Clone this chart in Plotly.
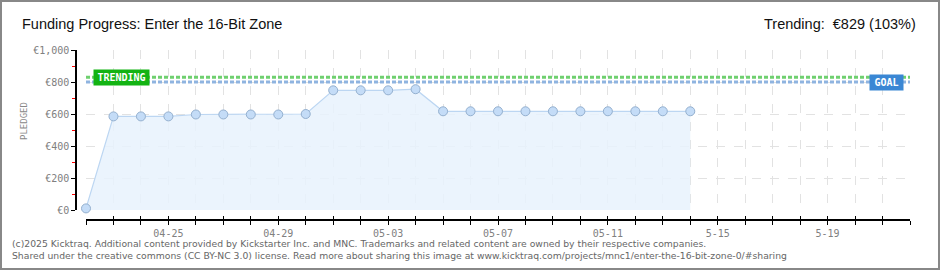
import plotly.graph_objects as go
import pandas as pd

# ---- data ----
dates = pd.date_range("2025-04-22", "2025-05-14", freq="D").strftime("%Y-%m-%d").tolist()
pledged = [10, 585, 585, 585, 597, 597, 597, 597, 600, 748, 748, 748, 755,
           617, 617, 617, 617, 617, 617, 617, 617, 617, 617]
x_start, x_end = "2025-04-22", "2025-05-22"
goal = 800
trending = 829
title_text = "Funding Progress: Enter the 16-Bit Zone"
trend_text = "Trending:  €829 (103%)"
tick_days = pd.date_range(x_start, x_end, freq="D").strftime("%Y-%m-%d").tolist()
label_map = {"2025-04-25": "04-25", "2025-04-29": "04-29", "2025-05-03": "05-03",
             "2025-05-07": "05-07", "2025-05-11": "05-11", "2025-05-15": "5-15",
             "2025-05-19": "5-19"}
tick_text = [label_map.get(d, "") for d in tick_days]
y_vals = [0, 200, 400, 600, 800, 1000]
y_text = ["€0", "€200", "€400", "€600", "€800", "€1,000"]
footer1 = "(c)2025 Kicktraq. Additional content provided by Kickstarter Inc. and MNC. Trademarks and related content are owned by their respective companies."
footer2 = "Shared under the creative commons (CC BY-NC 3.0) license. Read more about sharing this image at www.kicktraq.com/projects/mnc1/enter-the-16-bit-zone-0/#sharing"

W, H = 940, 270
L, R, T, B = 76, 30, 50, 50
PW, PH = W - L - R, H - T - B

fig = go.Figure()
fig.add_trace(go.Scatter(
    x=dates, y=pledged, mode="lines+markers", fill="tozeroy",
    fillcolor="rgba(232,242,253,0.85)",
    line=dict(color="#bcd6f2", width=1.2),
    marker=dict(size=9, color="#c4dcf7", line=dict(color="#94b0cf", width=1)),
    cliponaxis=False,
    hoverinfo="skip", showlegend=False, xaxis="x", yaxis="y"))

tick_font = dict(family="DejaVu Sans Mono, DejaVu Sans", size=10, color="#808080")

fig.update_layout(
    width=W, height=H, margin=dict(l=L, r=R, t=T, b=B),
    paper_bgcolor="white", plot_bgcolor="white",
    xaxis=dict(domain=[10 / PW, 1], range=[x_start, x_end], type="date",
               tick0=x_start, dtick=86400000, showgrid=True, gridcolor="#e2e2e2",
               griddash="dash", gridwidth=1, showticklabels=False, ticks="",
               zeroline=False, showline=False),
    xaxis2=dict(overlaying="x", anchor="free", position=0, range=[x_start, x_end],
                type="date", tickmode="array", tickvals=tick_days, ticktext=tick_text,
                ticks="outside", ticklen=4, tickcolor="black", tickwidth=1,
                showline=True, linecolor="black", linewidth=1.5, showgrid=False,
                zeroline=False, tickfont=tick_font),
    xaxis3=dict(overlaying="x", anchor="free", position=0, range=[x_start, x_end],
                type="date", tickmode="array", tickvals=tick_days,
                ticktext=[""] * len(tick_days),
                ticks="inside", ticklen=4, tickcolor="black", tickwidth=1,
                showline=False, showgrid=False, zeroline=False),
    yaxis=dict(domain=[10 / PH, 1], range=[0, 1000], tickvals=y_vals,
               showgrid=True, gridcolor="#e2e2e2", griddash="dash",
               showticklabels=False, ticks="", zeroline=False, showline=False),
    yaxis2=dict(overlaying="y", anchor="free", position=0, range=[0, 1000],
                tickmode="array", tickvals=y_vals, ticktext=y_text,
                ticks="outside", ticklen=4, tickcolor="black", tickwidth=1,
                showline=True, linecolor="black", linewidth=1.5, showgrid=False,
                zeroline=False, tickfont=tick_font,
                minor=dict(tickvals=[100, 300, 500, 700, 900], ticks="outside",
                           ticklen=3, tickcolor="red", tickwidth=1)),
)

# dummy traces to activate overlay axes
fig.add_trace(go.Scatter(x=[x_start], y=[0], xaxis="x2", yaxis="y2", mode="markers",
                         marker=dict(opacity=0), hoverinfo="skip", showlegend=False))
fig.add_trace(go.Scatter(x=[x_start], y=[0], xaxis="x3", yaxis="y2", mode="markers",
                         marker=dict(opacity=0), hoverinfo="skip", showlegend=False))

# goal and trending lines
fig.add_shape(type="line", xref="x domain", yref="y", x0=0, x1=1, y0=goal, y1=goal,
              line=dict(color="#8fb4e0", width=3, dash="4px,2px"))
fig.add_shape(type="line", xref="x domain", yref="y", x0=0, x1=1, y0=trending, y1=trending,
              line=dict(color="#6fd06f", width=3, dash="4px,2px"))

def px_x(p):
    return (p - L) / PW

def px_y(p):
    return (H - B - p) / PH

fig.add_annotation(x=px_x(93), y=trending, xref="paper", yref="y", xanchor="left",
                   yanchor="middle", text="<b>TRENDING</b>", showarrow=False,
                   bgcolor="#13b313", borderpad=2, width=51, align="center",
                   font=dict(family="DejaVu Sans Mono", size=10, color="white"))
fig.add_annotation(x=px_x(904), y=goal, xref="paper", yref="y", xanchor="right",
                   yanchor="middle", text="<b>GOAL</b>", showarrow=False,
                   bgcolor="#3a87d4", borderpad=2, width=29, align="center",
                   font=dict(family="DejaVu Sans Mono", size=10, color="white"))

# y title
fig.add_annotation(x=px_x(24), y=px_y(121), xref="paper", yref="paper", text="PLEDGED",
                   textangle=-90, showarrow=False, xanchor="center", yanchor="middle",
                   font=dict(family="DejaVu Sans Mono", size=9, color="#888888"))

# titles
fig.add_annotation(x=px_x(20), y=px_y(24), xref="paper", yref="paper", text=title_text,
                   showarrow=False, xanchor="left", yanchor="middle",
                   font=dict(family="Liberation Sans", size=14.5, color="#111111"))
fig.add_annotation(x=px_x(918), y=px_y(24), xref="paper", yref="paper", text=trend_text,
                   showarrow=False, xanchor="right", yanchor="middle",
                   font=dict(family="Liberation Sans", size=14.5, color="#111111"))

# footer
fig.add_annotation(x=px_x(10), y=px_y(243), xref="paper", yref="paper", text=footer1,
                   showarrow=False, xanchor="left", yanchor="middle",
                   font=dict(family="DejaVu Sans", size=9.25, color="#666666"))
fig.add_annotation(x=px_x(10), y=px_y(255), xref="paper", yref="paper", text=footer2,
                   showarrow=False, xanchor="left", yanchor="middle",
                   font=dict(family="DejaVu Sans", size=9.25, color="#666666"))

# outer border
fig.add_shape(type="rect", xref="paper", yref="paper",
              x0=px_x(1), x1=px_x(W - 1), y0=px_y(H - 1), y1=px_y(1),
              line=dict(color="#888888", width=2), fillcolor="rgba(0,0,0,0)")

fig.write_html("out.html")
